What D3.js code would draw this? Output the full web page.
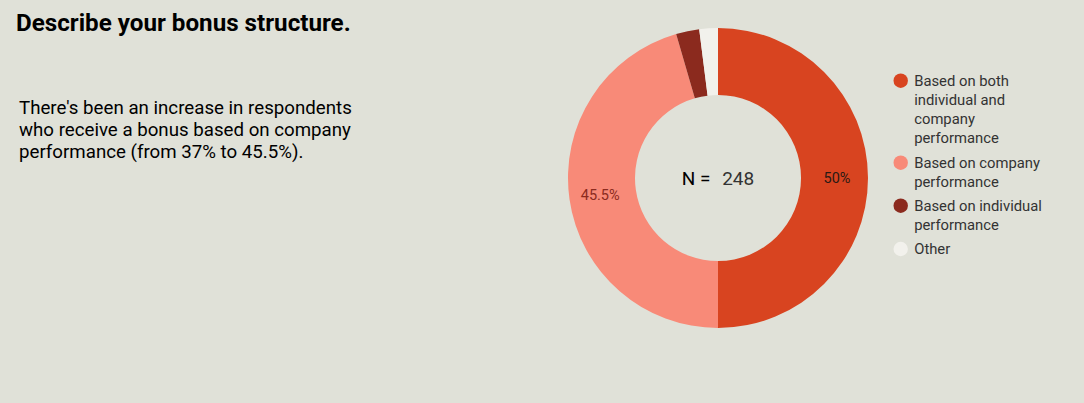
<!DOCTYPE html>
<html>
<head>
<meta charset="utf-8">
<script src="https://cdn.jsdelivr.net/npm/d3@7"></script>
<style>
  body { margin: 0; background: #e0e1d8; }
  svg { display: block; font-family: Roboto, sans-serif; }
</style>
</head>
<body>
<svg width="1084" height="403"></svg>
<script>
var categories = ["Based on both individual and company performance", "Based on company performance", "Based on individual performance", "Other"];
var legendLines = [["Based on both", "individual and", "company", "performance"], ["Based on company", "performance"], ["Based on individual", "performance"], ["Other"]];
var values = [50, 45.5, 2.5, 2.0];
var labels = ["50%", "45.5%", "", ""];
var colors = ["#d84420", "#f88a78", "#8b2a1e", "#f2f1ec"];
var labelColors = ["#2a1a14", "#8b2a1e", "", ""];
var respondents = 248;

var svg = d3.select("svg");

svg.append("text")
  .attr("x", 16).attr("y", 31)
  .attr("font-size", 24.2).attr("font-weight", "bold").attr("fill", "#000")
  .text("Describe your bonus structure.");

var para = ["There's been an increase in respondents", "who receive a bonus based on company", "performance (from 37% to 45.5%)."];
svg.append("g").selectAll("text").data(para).join("text")
  .attr("x", 19).attr("y", function(d, i){ return 114 + i * 22; })
  .attr("font-size", 18.7).attr("fill", "#000")
  .text(function(d){ return d; });

var cx = 718, cy = 178, rOut = 150, rIn = 83;
var pie = d3.pie().sort(null).value(function(d){ return d; });
var arc = d3.arc().innerRadius(rIn).outerRadius(rOut);
var labelArc = d3.arc().innerRadius(119).outerRadius(119);
var arcs = pie(values);

var g = svg.append("g").attr("transform", "translate(" + cx + "," + cy + ")");
g.selectAll("path").data(arcs).join("path")
  .attr("d", arc)
  .attr("fill", function(d, i){ return colors[i]; });

g.selectAll("text.lbl").data(arcs).join("text")
  .attr("class", "lbl")
  .attr("transform", function(d){ return "translate(" + labelArc.centroid(d) + ")"; })
  .attr("text-anchor", "middle").attr("dy", "0.35em")
  .attr("font-size", 14.5)
  .attr("fill", function(d, i){ return labelColors[i]; })
  .text(function(d, i){ return labels[i]; });

var nText = g.append("text").attr("text-anchor", "middle").attr("dy", "0.35em").attr("font-size", 19);
nText.append("tspan").attr("fill", "#000").text("N = ");
nText.append("tspan").attr("fill", "#333").attr("dx", 7).text(respondents);

var legendY = [80.7, 162.7, 205.7, 249];
var lg = svg.append("g");
var items = lg.selectAll("g").data(categories).join("g")
  .attr("transform", function(d, i){ return "translate(900.7," + legendY[i] + ")"; });
items.append("circle").attr("r", 7.2).attr("fill", function(d, i){ return colors[i]; });
items.append("text")
  .attr("x", 13.5).attr("font-size", 14.8).attr("fill", "#333")
  .selectAll("tspan").data(function(d, i){ return legendLines[i]; }).join("tspan")
  .attr("x", 13.5).attr("y", function(d, j){ return j * 19; }).attr("dy", "0.35em")
  .text(function(d){ return d; });
</script>
</body>
</html>
